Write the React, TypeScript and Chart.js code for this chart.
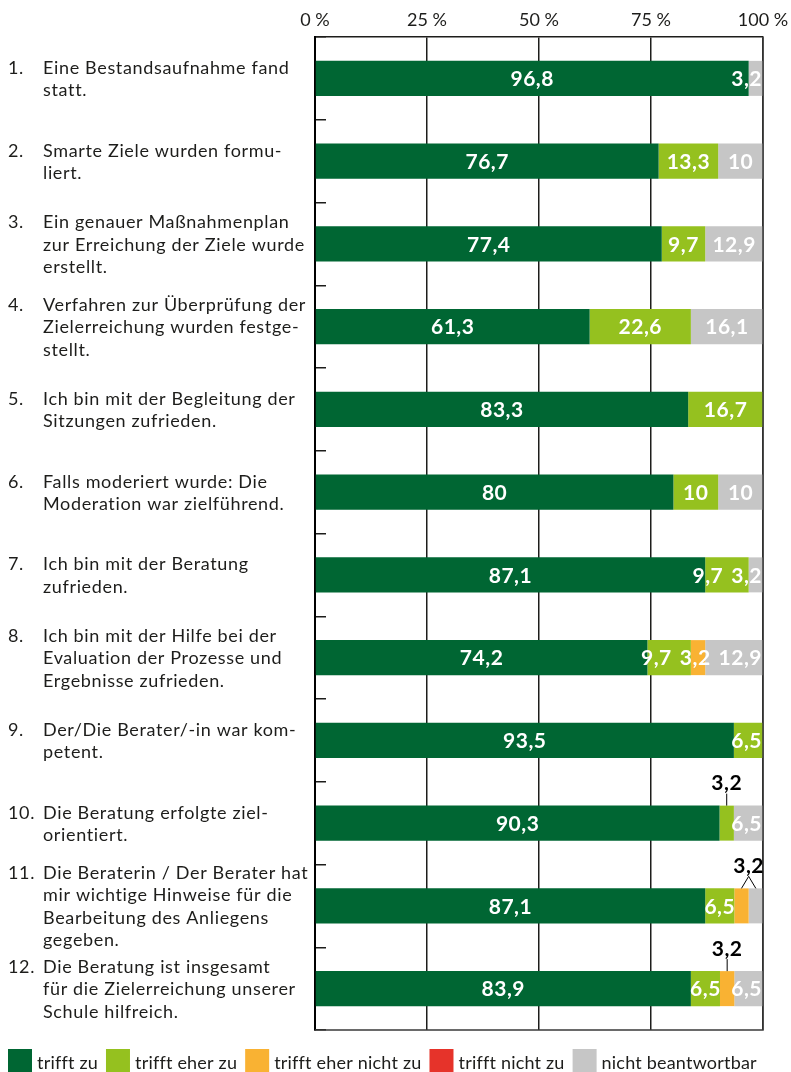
import React, { useEffect, useRef } from 'react';
import { Chart, registerables } from 'chart.js';

Chart.register(...registerables);

const categories: string[][] = [
  ['Eine Bestandsaufnahme fand', 'statt.'],
  ['Smarte Ziele wurden formu-', 'liert.'],
  ['Ein genauer Maßnahmenplan', 'zur Erreichung der Ziele wurde', 'erstellt.'],
  ['Verfahren zur Überprüfung der', 'Zielerreichung wurden festge-', 'stellt.'],
  ['Ich bin mit der Begleitung der', 'Sitzungen zufrieden.'],
  ['Falls moderiert wurde: Die', 'Moderation war zielführend.'],
  ['Ich bin mit der Beratung', 'zufrieden.'],
  ['Ich bin mit der Hilfe bei der', 'Evaluation der Prozesse und', 'Ergebnisse zufrieden.'],
  ['Der/Die Berater/-in war kom-', 'petent.'],
  ['Die Beratung erfolgte ziel-', 'orientiert.'],
  ['Die Beraterin / Der Berater hat', 'mir wichtige Hinweise für die', 'Bearbeitung des Anliegens', 'gegeben.'],
  ['Die Beratung ist insgesamt', 'für die Zielerreichung unserer', 'Schule hilfreich.'],
];

const seriesNames = ['trifft zu', 'trifft eher zu', 'trifft eher nicht zu', 'trifft nicht zu', 'nicht beantwortbar'];
const trifftZu = [96.8, 76.7, 77.4, 61.3, 83.3, 80, 87.1, 74.2, 93.5, 90.3, 87.1, 83.9];
const trifftEherZu = [0, 13.3, 9.7, 22.6, 16.7, 10, 9.7, 9.7, 6.5, 3.2, 6.5, 6.5];
const trifftEherNichtZu = [0, 0, 0, 0, 0, 0, 0, 3.2, 0, 0, 3.2, 3.2];
const trifftNichtZu = [0, 0, 0, 0, 0, 0, 0, 0, 0, 0, 0, 0];
const nichtBeantwortbar = [3.2, 10, 12.9, 16.1, 0, 10, 3.2, 12.9, 0, 6.5, 3.2, 6.5];
const xTicks = [0, 25, 50, 75, 100];

// labels shown above the bar with a leader line: [row, dataset]
const calloutLabels: Array<[number, number]> = [[9, 1], [10, 2], [10, 4], [11, 2]];

const colors = ['#006633', '#95C11F', '#F9B233', '#E6332A', '#C6C6C6'];
const FONT = 'Lato, "Open Sans", sans-serif';
const TEXT = '#1d1d1b';

const fmt = (v: number) => String(v).replace('.', ',');

const labelsPlugin = {
  id: 'customLabels',
  afterDraw(chart: any) {
    const ctx = chart.ctx as any;
    const area = chart.chartArea;
    const yScale = chart.scales.y;

    // frame (bottom and right)
    ctx.save();
    ctx.strokeStyle = '#3a3a3a';
    ctx.lineWidth = 1.5;
    ctx.beginPath();
    ctx.moveTo(area.left, area.bottom);
    ctx.lineTo(area.right, area.bottom);
    ctx.lineTo(area.right, area.top);
    ctx.stroke();
    ctx.restore();

    // category labels
    ctx.save();
    ctx.font = `18px ${FONT}`;
    ctx.letterSpacing = '0.65px';
    ctx.fillStyle = TEXT;
    ctx.textBaseline = 'middle';
    ctx.textAlign = 'left';
    const lh = 22.5;
    categories.forEach((lines, i) => {
      const cy = yScale.getPixelForValue(i) + 1;
      const y0 = cy - ((lines.length - 1) * lh) / 2;
      ctx.fillText(`${i + 1}.`, 8, y0);
      lines.forEach((ln, k) => ctx.fillText(ln, 43, y0 + k * lh));
    });
    ctx.restore();

    // bar value labels
    ctx.save();
    ctx.font = `bold 21px ${FONT}`;
    ctx.letterSpacing = '0.5px';
    ctx.textBaseline = 'middle';
    ctx.textAlign = 'center';
    const n = categories.length;
    for (let i = 0; i < n; i++) {
      const inside: any[] = [];
      const callouts: any[] = [];
      chart.data.datasets.forEach((ds: any, d: number) => {
        const v = ds.data[i];
        if (!v) return;
        const el = chart.getDatasetMeta(d).data[i];
        const x0 = Math.min(el.x, el.base);
        const x1 = Math.max(el.x, el.base);
        const item = { text: fmt(v), cx: (x0 + x1) / 2, top: el.y - el.height / 2, y: el.y, w: 0 };
        item.w = ctx.measureText(item.text).width;
        if (calloutLabels.some(([r, c]) => r === i && c === d)) callouts.push(item);
        else inside.push(item);
      });
      // resolve overlaps of inside labels
      const gap = 8;
      for (let pass = 0; pass < 20; pass++) {
        for (let k = 0; k < inside.length - 1; k++) {
          const a = inside[k];
          const b = inside[k + 1];
          const ov = a.cx + a.w / 2 + gap - (b.cx - b.w / 2);
          if (ov > 0) {
            a.cx -= ov / 2;
            b.cx += ov / 2;
          }
        }
        if (inside.length) {
          const last = inside[inside.length - 1];
          const over = last.cx + last.w / 2 - (area.right - 1);
          if (over > 0) last.cx -= over;
        }
      }
      ctx.fillStyle = '#ffffff';
      inside.forEach((it) => ctx.fillText(it.text, it.cx, it.y + 1));

      if (callouts.length) {
        const lx = callouts.reduce((s, c) => s + c.cx, 0) / callouts.length;
        const top = callouts[0].top;
        ctx.fillStyle = '#000000';
        ctx.fillText(callouts[0].text, lx, top - 22);
        ctx.strokeStyle = '#000000';
        ctx.lineWidth = 1;
        callouts.forEach((c) => {
          ctx.beginPath();
          ctx.moveTo(lx, top - 12);
          ctx.lineTo(c.cx, top);
          ctx.stroke();
        });
      }
    }
    ctx.restore();

    // legend
    ctx.save();
    ctx.font = `18px ${FONT}`;
    ctx.letterSpacing = '0.2px';
    ctx.textBaseline = 'alphabetic';
    ctx.textAlign = 'left';
    let x = 8;
    seriesNames.forEach((name, d) => {
      ctx.fillStyle = colors[d];
      ctx.fillRect(x, 1049, 24, 24);
      ctx.fillStyle = TEXT;
      ctx.fillText(name, x + 29, 1069);
      x += 29 + ctx.measureText(name).width + 8;
    });
    ctx.restore();
  },
};

export default function App() {
  const ref = useRef<HTMLCanvasElement | null>(null);
  useEffect(() => {
    if (!ref.current) return;
    const series = [trifftZu, trifftEherZu, trifftEherNichtZu, trifftNichtZu, nichtBeantwortbar];
    const chart = new Chart(ref.current, {
      type: 'bar',
      data: {
        labels: categories.map((c) => c.join(' ')),
        datasets: series.map((data, d) => ({
          label: seriesNames[d],
          data,
          backgroundColor: colors[d],
          borderWidth: 0,
          barPercentage: 0.423,
          categoryPercentage: 1,
        })),
      },
      options: {
        indexAxis: 'y',
        animation: false,
        responsive: false,
        layout: { padding: { left: 0, top: 0, right: 28, bottom: 42 } },
        plugins: { legend: { display: false }, tooltip: { enabled: false } },
        scales: {
          x: {
            type: 'linear',
            position: 'top',
            stacked: true,
            min: 0,
            max: 100,
            afterBuildTicks: (s: any) => {
              s.ticks = xTicks.map((v) => ({ value: v }));
            },
            ticks: {
              font: { family: FONT, size: 18 },
              color: TEXT,
              padding: 6,
              maxRotation: 0,
              callback: (v: any) => `${v} %`,
            },
            grid: { color: '#1d1d1b', lineWidth: 1.5, drawTicks: false },
            border: { display: true, color: '#1d1d1b', width: 1.5 },
            afterFit: (s: any) => {
              s.height = 37;
              s.paddingLeft = 0;
              s.paddingRight = 0;
            },
          },
          y: {
            type: 'category',
            stacked: true,
            ticks: { display: false },
            grid: { drawOnChartArea: false, drawTicks: true, tickLength: -11, color: '#1d1d1b', lineWidth: 1.5 },
            border: { display: true, color: '#000000', width: 2 },
            afterFit: (s: any) => {
              s.width = 315;
              s.paddingTop = 0;
              s.paddingBottom = 0;
            },
          },
        },
      },
      plugins: [labelsPlugin],
    });
    return () => chart.destroy();
  }, []);
  return (
    <div style={{ position: 'absolute', left: 0, top: 0, width: 791, height: 1072 }}>
      <canvas ref={ref} width={791} height={1072} style={{ display: 'block', width: 791, height: 1072 }} />
    </div>
  );
}
